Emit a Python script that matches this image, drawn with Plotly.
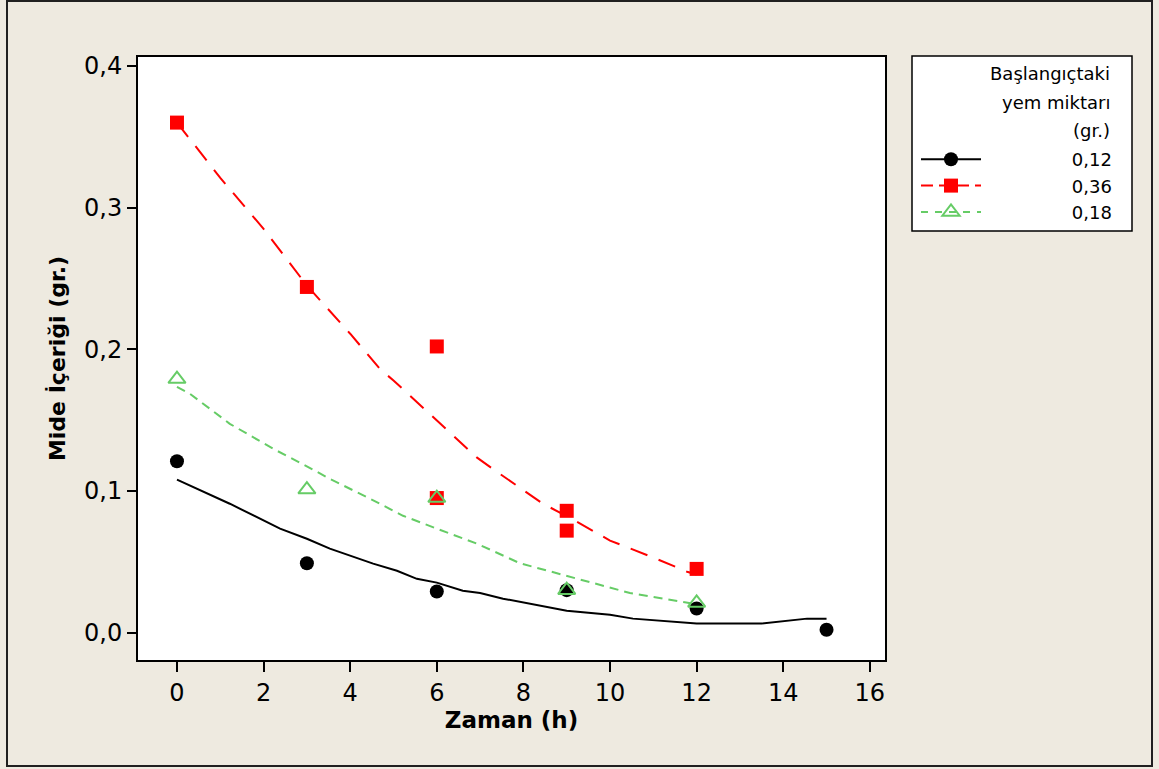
import plotly.graph_objects as go

# ---- data ----
time_h = [0, 3, 6, 9, 12, 15]
food_012 = [0.121, 0.049, 0.029, 0.030, 0.017, 0.002]

time_036 = [0, 3, 6, 6, 9, 9, 12]
food_036 = [0.360, 0.244, 0.202, 0.095, 0.086, 0.072, 0.045]

time_018 = [0, 3, 6, 9, 12]
food_018 = [0.179, 0.101, 0.095, 0.030, 0.021]

fit_x_012 = [0, 0.46, 1.22, 2.38, 3.0, 3.53, 4.53, 5.08, 5.54, 6.0, 6.6, 7.0, 7.53, 9.0, 10.0, 10.53, 12.0, 13.5, 14.55, 15.0]
fit_y_012 = [0.108, 0.1016, 0.091, 0.0734, 0.0663, 0.0593, 0.0487, 0.0437, 0.038, 0.0353, 0.0296, 0.028, 0.024, 0.0155, 0.0127, 0.0099, 0.0064, 0.0064, 0.0099, 0.0099]

fit_x_036 = [0, 1, 2, 3, 4, 4.69, 5, 6.3, 6.93, 7.46, 8.45, 9.08, 10.0, 11.08, 11.78, 12.0]
fit_y_036 = [0.360, 0.321, 0.285, 0.245, 0.211, 0.186, 0.178, 0.141, 0.1235, 0.112, 0.091, 0.081, 0.065, 0.052, 0.043, 0.041]

fit_x_018 = [0, 0.3, 1.22, 2.22, 2.9, 3.53, 4.46, 5.22, 6.0, 6.93, 7.92, 9.24, 10.46, 11.22, 11.85, 12.0]
fit_y_018 = [0.1735, 0.1686, 0.1474, 0.1298, 0.119, 0.1086, 0.0945, 0.0825, 0.0734, 0.0628, 0.049, 0.038, 0.028, 0.024, 0.0205, 0.020]

series_names = ["0,12", "0,36", "0,18"]
legend_title_lines = ["Başlangıçtaki", "yem miktarı", "(gr.)"]
x_ticks = [0, 2, 4, 6, 8, 10, 12, 14, 16]
y_ticks = [0.0, 0.1, 0.2, 0.3, 0.4]

BLACK = "#000000"
RED = "#FF0000"
GREEN = "#66CC66"
BG = "#EEEAE0"

fig = go.Figure()

series = [
    (time_h, food_012, fit_x_012, fit_y_012, BLACK, "solid",
     dict(symbol="circle", size=14, color=BLACK)),
    (time_036, food_036, fit_x_036, fit_y_036, RED, "18px,12px",
     dict(symbol="square", size=14, color=RED)),
    (time_018, food_018, fit_x_018, fit_y_018, GREEN, "9px,6px",
     dict(symbol="triangle-up-open", size=15, color=GREEN, line=dict(width=2, color=GREEN))),
]

PAD = "\u00a0" * 15

for name, (px, py, fx, fy, col, dash, mk) in zip(series_names, series):
    fig.add_trace(go.Scatter(x=fx, y=fy, mode="lines", line=dict(color=col, width=2, dash=dash),
                             legendgroup=name, showlegend=False, hoverinfo="skip"))

for name, (px, py, fx, fy, col, dash, mk) in zip(series_names, series):
    fig.add_trace(go.Scatter(x=px, y=py, mode="markers", marker=mk, name=name,
                             legendgroup=name, showlegend=False))
    # legend entry (line + marker)
    legend_dash = "7px,7px" if dash == "9px,6px" else ("12px,6px" if dash != "solid" else dash)
    fig.add_trace(go.Scatter(x=[None], y=[None], mode="lines+markers", name=PAD + name,
                             line=dict(color=col, width=2, dash=legend_dash), marker=mk,
                             legendgroup=name, showlegend=True))

L, R, T, B = 138, 885, 57, 660
W, H = 1159, 769
pw, ph = R - L, B - T

def px2x(p):
    return (p - L) / pw

def py2y(p):
    return (B - p) / ph

shapes = [
    # outer frame
    dict(type="rect", xref="paper", yref="paper", x0=px2x(7), x1=px2x(1152), y0=py2y(766), y1=py2y(1),
         line=dict(color="#202020", width=2), fillcolor="rgba(0,0,0,0)", layer="below"),
    # legend box
    dict(type="rect", xref="paper", yref="paper", x0=px2x(912), x1=px2x(1132), y0=py2y(231), y1=py2y(56),
         line=dict(color="#000000", width=1.5), fillcolor="#FFFFFF", layer="below"),
]

annotations = []
for i, txt in enumerate(legend_title_lines):
    annotations.append(dict(text=txt, xref="paper", yref="paper", x=px2x(1112), y=py2y(74 + 28 * i),
                            xanchor="right", yanchor="middle", showarrow=False, align="right",
                            font=dict(family="DejaVu Sans", size=18, color="#000000")))

fig.update_layout(
    width=W, height=H,
    margin=dict(l=L, r=W - R, t=T, b=H - B, autoexpand=False),
    paper_bgcolor=BG, plot_bgcolor="#FFFFFF",
    separators=",.",
    shapes=shapes, annotations=annotations,
    legend=dict(x=px2x(916), y=py2y(141), xanchor="left", yanchor="top",
                bgcolor="rgba(0,0,0,0)", borderwidth=0,
                font=dict(family="DejaVu Sans", size=18, color="#000000"),
                itemwidth=60, tracegroupgap=0, traceorder="grouped"),
    xaxis=dict(range=[-0.9, 16.35], tickvals=x_ticks, ticks="outside", ticklen=10, tickwidth=2,
               tickcolor="#000", showline=True, linecolor="#000", linewidth=2, mirror=True,
               showgrid=False, zeroline=False,
               tickfont=dict(family="DejaVu Sans", size=24, color="#000"),
               title=dict(text="<b>Zaman (h)</b>", standoff=6,
                          font=dict(family="DejaVu Sans", size=23, color="#000"))),
    yaxis=dict(range=[-0.0193, 0.4063], tickvals=y_ticks, tickformat=".1f", ticks="outside",
               ticklen=9, tickwidth=2, tickcolor="#000", showline=True, linecolor="#000",
               linewidth=2, mirror=True, showgrid=False, zeroline=False,
               tickfont=dict(family="DejaVu Sans", size=24, color="#000"),
               title=dict(text="<b>Mide İçeriği (gr.)</b>", standoff=12,
                          font=dict(family="DejaVu Sans", size=22, color="#000"))),
)

fig.write_html(
    "out.html",
    config={"displayModeBar": False},
    post_script="document.body.style.margin='0px';document.body.style.background='" + BG + "';",
)
